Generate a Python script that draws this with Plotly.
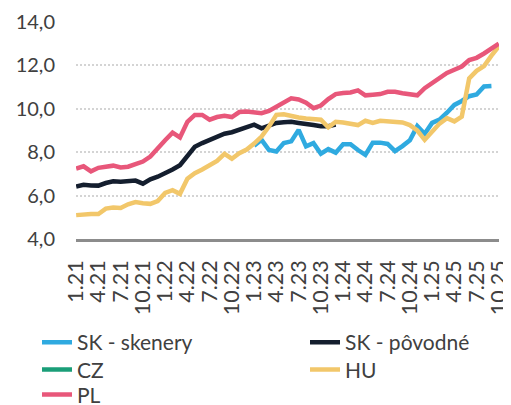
import plotly.graph_objects as go

# Month labels (m.yy) from 1.21 to 10.25
months = [f"{m}.{y}" for y in range(21, 26) for m in range(1, 13)][:58]
tick_labels = months[::3]

sk_skenery = [None] * 24 + [
    8.30, 8.57, 8.10, 8.03, 8.42, 8.50, 9.03, 8.27, 8.42, 7.93, 8.14, 7.98,
    8.37, 8.37, 8.10, 7.88, 8.44, 8.44, 8.38, 8.05, 8.28, 8.55, 9.20, 8.85,
    9.35, 9.50, 9.82, 10.18, 10.36, 10.58, 10.66, 11.03, 11.05, None]

sk_povodne = [
    6.42, 6.50, 6.47, 6.46, 6.58, 6.66, 6.64, 6.68, 6.69, 6.55, 6.75, 6.87,
    7.02, 7.20, 7.40, 7.85, 8.25, 8.42, 8.58, 8.74, 8.85, 8.92, 9.03, 9.12,
    9.27, 9.10, 9.22, 9.35, 9.38, 9.40, 9.35, 9.32, 9.25, 9.20, 9.20, 9.27] + [None] * 22

cz = [None] * 58

hu = [
    5.10, 5.15, 5.15, 5.15, 5.40, 5.45, 5.43, 5.60, 5.70, 5.65, 5.62, 5.75,
    6.12, 6.25, 6.08, 6.78, 7.03, 7.20, 7.40, 7.60, 7.92, 7.70, 7.95, 8.12,
    8.40, 8.72, 9.18, 9.72, 9.75, 9.65, 9.60, 9.55, 9.52, 9.50, 9.15, 9.40,
    9.37, 9.30, 9.25, 9.45, 9.35, 9.45, 9.42, 9.40, 9.37, 9.25, 9.00, 8.57,
    8.95, 9.32, 9.57, 9.42, 9.64, 11.40, 11.75, 11.97, 12.45, 12.88]

pl = [
    7.25, 7.35, 7.12, 7.28, 7.33, 7.38, 7.30, 7.33, 7.45, 7.57, 7.80, 8.20,
    8.55, 8.90, 8.68, 9.40, 9.72, 9.72, 9.50, 9.62, 9.68, 9.62, 9.85, 9.87,
    9.85, 9.80, 9.90, 10.10, 10.28, 10.48, 10.43, 10.28, 10.03, 10.15, 10.45, 10.68,
    10.73, 10.75, 10.85, 10.62, 10.65, 10.68, 10.78, 10.78, 10.72, 10.67, 10.62, 10.95,
    11.20, 11.45, 11.65, 11.80, 11.95, 12.25, 12.35, 12.55, 12.78, 13.00]

series_names = ["SK - skenery", "SK - pôvodné", "CZ", "HU", "PL"]
series_values = [sk_skenery, sk_povodne, cz, hu, pl]
series_colors = ["#2FAAE0", "#141E2E", "#1A9E78", "#F2C76A", "#E8577A"]
# legend slots: (column x in paper, row y in paper)
legend_pos = [(-0.0922, -0.383), (0.5414, -0.383), (-0.0922, -0.508),
              (0.5414, -0.508), (-0.0922, -0.624)]

FONT = "Lato"
TXT = "#404040"

fig = go.Figure()
legend_layout = {}
for k, (name, vals, color, pos) in enumerate(
        zip(series_names, series_values, series_colors, legend_pos)):
    lg = f"legend{k + 2}"
    fig.add_trace(go.Scatter(
        x=months, y=vals, name=name, mode="lines",
        line=dict(color=color, width=4.5),
        connectgaps=False, legend=lg, showlegend=True,
    ))
    legend_layout[lg] = dict(
        x=pos[0], xanchor="left", y=pos[1], yanchor="top",
        orientation="v", font=dict(family=FONT, size=21, color=TXT),
        bgcolor="rgba(0,0,0,0)", borderwidth=0, visible=True,
    )

fig.update_layout(
    width=503, height=397,
    margin=dict(l=68, r=12, t=14, b=166, autoexpand=False),
    paper_bgcolor="white", plot_bgcolor="white",
    separators=", ",
    showlegend=True,
    font=dict(family=FONT, size=20, color=TXT),
    **legend_layout,
)

fig.update_xaxes(
    type="category", categoryorder="array", categoryarray=months,
    range=[-0.02, 57.02],
    tickmode="array", tickvals=tick_labels, ticktext=tick_labels,
    tickangle=-90, ticks="", showgrid=False,
    showline=True, linecolor="#8C8C8C", linewidth=2.5,
    tickfont=dict(family=FONT, size=21.5, color=TXT),
    ticklabelstandoff=10,
)
fig.update_yaxes(
    range=[4, 14], tickvals=[4, 6, 8, 10, 12, 14], tickformat=".1f",
    showgrid=True, gridcolor="#D4D4D4", gridwidth=2, griddash="2px,2px",
    zeroline=False, showline=False, ticks="",
    tickfont=dict(family=FONT, size=20, color=TXT),
    ticklabelstandoff=20,
)

fig.write_html("out.html")
